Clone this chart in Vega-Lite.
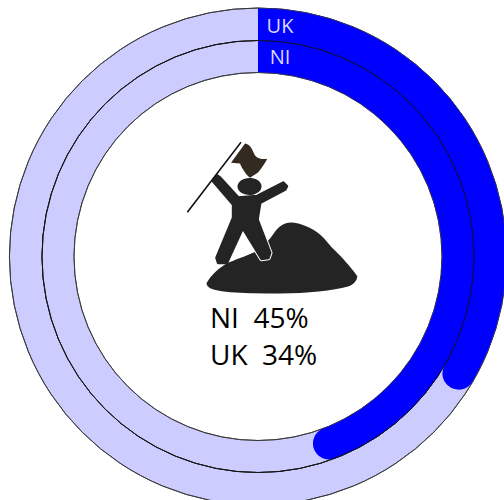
{"$schema":"https://vega.github.io/schema/vega-lite/v6.json","width":516,"height":513,"autosize":"none","padding":0,"background":"white","config":{"view":{"stroke":null}},
"datasets":{"ring":[{"from":0,"to":100}],"pct":[{"series":"UK","from":0,"body":31.5,"to":34.5,"label":"UK\u00a0\u00a034%"},{"series":"NI","from":0,"body":42.5,"to":45.5,"label":"NI\u00a0\u00a045%"}],"icon":[{"part":"figure"}]},
"layer":[
{"data":{"name":"ring"},"mark":{"type":"arc","radius":248.5,"radius2":216,"fill":"#ccccff","stroke":"#222222","strokeWidth":1},"encoding":{"theta":{"field":"from","type":"quantitative","scale":{"domain":[0,100],"range":[0,6.28319]}},"theta2":{"field":"to"}}},
{"data":{"name":"ring"},"mark":{"type":"arc","radius":216,"radius2":184,"fill":"#ccccff","stroke":"#222222","strokeWidth":1},"encoding":{"theta":{"field":"from","type":"quantitative","scale":{"domain":[0,100],"range":[0,6.28319]}},"theta2":{"field":"to"}}},
{"data":{"name":"pct"},"transform":[{"filter":"datum.series==='UK'"}],"mark":{"type":"arc","radius":248.5,"radius2":216,"fill":"#0000ff","cornerRadius":16},"encoding":{"theta":{"field":"from","type":"quantitative","scale":{"domain":[0,100],"range":[0,6.28319]}},"theta2":{"field":"to"}}},
{"data":{"name":"pct"},"transform":[{"filter":"datum.series==='UK'"}],"mark":{"type":"arc","radius":248.5,"radius2":216,"fill":"#0000ff"},"encoding":{"theta":{"field":"from","type":"quantitative","scale":{"domain":[0,100],"range":[0,6.28319]}},"theta2":{"field":"body"}}},
{"data":{"name":"pct"},"transform":[{"filter":"datum.series==='NI'"}],"mark":{"type":"arc","radius":216,"radius2":184,"fill":"#0000ff","cornerRadius":16},"encoding":{"theta":{"field":"from","type":"quantitative","scale":{"domain":[0,100],"range":[0,6.28319]}},"theta2":{"field":"to"}}},
{"data":{"name":"pct"},"transform":[{"filter":"datum.series==='NI'"}],"mark":{"type":"arc","radius":216,"radius2":184,"fill":"#0000ff"},"encoding":{"theta":{"field":"from","type":"quantitative","scale":{"domain":[0,100],"range":[0,6.28319]}},"theta2":{"field":"body"}}},
{"data":{"name":"ring"},"mark":{"type":"arc","radius":216,"radius2":216,"fillOpacity":0,"stroke":"#111111","strokeWidth":0.6},"encoding":{"theta":{"field":"from","type":"quantitative","scale":{"domain":[0,100],"range":[0,6.28319]}},"theta2":{"field":"to"}}},
{"data":{"name":"ring"},"mark":{"type":"arc","radius":184,"radius2":184,"fillOpacity":0,"stroke":"#444444","strokeWidth":0.4},"encoding":{"theta":{"field":"from","type":"quantitative","scale":{"domain":[0,100],"range":[0,6.28319]}},"theta2":{"field":"to"}}},
{"data":{"name":"ring"},"mark":{"type":"arc","radius":248.5,"radius2":248.5,"fillOpacity":0,"stroke":"#444444","strokeWidth":0.4},"encoding":{"theta":{"field":"from","type":"quantitative","scale":{"domain":[0,100],"range":[0,6.28319]}},"theta2":{"field":"to"}}},
{"data":{"name":"pct"},"transform":[{"filter":"datum.series==='UK'"}],"mark":{"type":"text","font":"Open Sans","fontSize":20,"fill":"#d8d8ff","align":"center","baseline":"middle","dx":22,"dy":-230},"encoding":{"text":{"field":"series"}}},
{"data":{"name":"pct"},"transform":[{"filter":"datum.series==='NI'"}],"mark":{"type":"text","font":"Open Sans","fontSize":20,"fill":"#d8d8ff","align":"center","baseline":"middle","dx":22,"dy":-199},"encoding":{"text":{"field":"series"}}},
{"data":{"name":"pct"},"transform":[{"filter":"datum.series==='NI'"}],"mark":{"type":"text","font":"Open Sans","fontSize":28,"fill":"#000000","align":"left","baseline":"middle","dx":-48,"dy":63},"encoding":{"text":{"field":"label"}}},
{"data":{"name":"pct"},"transform":[{"filter":"datum.series==='UK'"}],"mark":{"type":"text","font":"Open Sans","fontSize":28,"fill":"#000000","align":"left","baseline":"middle","dx":-48,"dy":100},"encoding":{"text":{"field":"label"}}},
{"data":{"name":"icon"},"mark":{"type":"point","filled":true,"opacity":1,"size":4,"fill":"#242424","shape":"M-51.3 26.3C-47 19 -42 14 -33 8C-26 4 -12 0 0 -6C6 -10 12 -18 15 -22C20 -30 26 -34 33 -34C42 -34 55 -28 62 -22C68 -17 72 -10 78 -5C85 2 94 12 99.3 19.7C99 24 96 28 90 30C75 34 50 37 22 37C0 37 -25 37 -40 34C-47 33 -52 30 -51.3 26.3Z"}},
{"data":{"name":"icon"},"mark":{"type":"point","filled":true,"opacity":1,"size":4,"fill":"#242424","stroke":"white","strokeWidth":5,"strokeJoin":"round","shape":"M-10 -40L-0.7 -37L12 -3.7L10.3 1.3L3.7 2.3L-15.3 -28.7Z"}},
{"data":{"name":"icon"},"mark":{"type":"point","filled":true,"opacity":1,"size":4,"fill":"#242424","stroke":"#242424","strokeWidth":3,"strokeJoin":"round","shape":"M-41.3 -81L-38 -78.7L-19.7 -58.7L-0.7 -60.3L25.3 -73.7L28.7 -70.3L27 -67L2 -53.7L-0.7 -37L12 -3.7L10.3 1.3L3.7 2.3L-15.3 -28.7L-31.3 6.3L-39.7 6.3L-41.3 1.3L-24.7 -38.7L-24.7 -52L-44.7 -75.3Z"}},
{"data":{"name":"icon"},"mark":{"type":"point","filled":true,"opacity":1,"size":4,"fill":"#242424","shape":"M-20.5 -70A12 8.5 0 1 1 3.5 -70A12 8.5 0 1 1 -20.5 -70Z"}},
{"data":{"name":"icon"},"mark":{"type":"point","filled":true,"opacity":1,"size":4,"fill":"#332b22","shape":"M-27 -93.7L-13 -113C-8 -112 -6 -108 -4 -103C-2 -98 3 -97 9.3 -97.7C6 -92 3 -87 0 -84L-8 -78.7C-12 -82 -16 -88 -18 -93Z"}},
{"data":{"name":"icon"},"mark":{"type":"point","filled":true,"opacity":1,"size":4,"fill":"#111111","shape":"M-17.6 -114.8L-16.4 -113.8L-70 -43.8L-71.3 -44.8Z"}}
]}
